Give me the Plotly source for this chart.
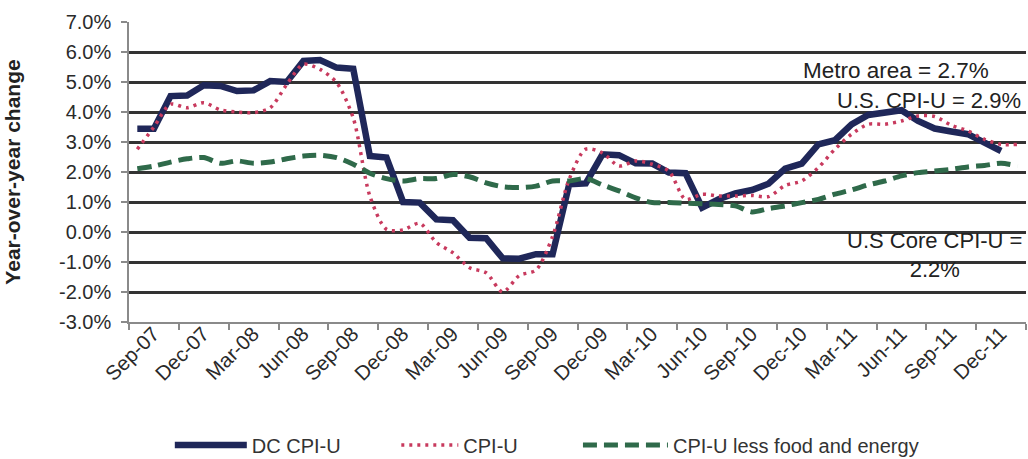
import pandas as pd
import plotly.graph_objects as go

# Monthly categories Sep-07 .. Feb-12
months = [d.strftime("%b-%y") for d in pd.date_range("2007-09-01", "2012-02-01", freq="MS")]

dc_cpi_u = [3.44, 3.44, 4.53, 4.55, 4.89, 4.87, 4.70, 4.72, 5.03, 5.00,
            5.70, 5.73, 5.48, 5.44, 2.53, 2.48, 1.00, 0.98, 0.42, 0.39,
            -0.19, -0.21, -0.88, -0.89, -0.74, -0.74, 1.59, 1.62, 2.59, 2.56,
            2.29, 2.28, 1.98, 1.96, 0.81, 1.09, 1.29, 1.40, 1.61, 2.11,
            2.28, 2.92, 3.06, 3.59, 3.90, 3.97, 4.06, 3.70, 3.45, 3.35,
            3.26, 2.98, 2.70]

cpi_u = [2.76, 3.50, 4.26, 4.14, 4.31, 4.07, 4.00, 3.98, 4.14, 4.92,
         5.59, 5.42, 4.98, 3.80, 1.20, 0.09, 0.07, 0.29, -0.35, -0.69,
         -1.19, -1.36, -2.00, -1.45, -1.27, -0.15, 1.76, 2.76, 2.64, 2.20,
         2.37, 2.26, 2.03, 1.09, 1.26, 1.20, 1.20, 1.22, 1.18, 1.55,
         1.70, 2.15, 2.76, 3.26, 3.59, 3.59, 3.70, 3.87, 3.85, 3.56,
         3.37, 3.09, 2.92, 2.92]

core_cpi_u = [2.11, 2.20, 2.33, 2.44, 2.48, 2.29, 2.37, 2.29, 2.33, 2.44,
              2.53, 2.56, 2.48, 2.26, 1.96, 1.78, 1.70, 1.78, 1.78, 1.92,
              1.84, 1.64, 1.51, 1.48, 1.53, 1.70, 1.70, 1.78, 1.57, 1.37,
              1.14, 0.98, 0.98, 0.96, 0.94, 0.92, 0.87, 0.67, 0.78, 0.87,
              0.98, 1.09, 1.26, 1.40, 1.57, 1.70, 1.87, 1.98, 2.03, 2.09,
              2.17, 2.22, 2.29, 2.20]

series_names = ["DC CPI-U", "CPI-U", "CPI-U less food and energy"]
y_ticks = list(range(-3, 8))

FONT = "Liberation Sans, Arial, sans-serif"

fig = go.Figure()
fig.add_trace(go.Scatter(
    x=months[:len(dc_cpi_u)], y=dc_cpi_u, name=series_names[0], mode="lines",
    legend="legend",
    line=dict(color="#1f2759", width=6.5)))
fig.add_trace(go.Scatter(
    x=months, y=cpi_u, name=series_names[1], mode="lines",
    legend="legend2",
    line=dict(color="#c83a5e", width=3.5, dash="3px,5px", shape="spline", smoothing=0.8)))
fig.add_trace(go.Scatter(
    x=months, y=core_cpi_u, name=series_names[2], mode="lines",
    legend="legend3",
    line=dict(color="#2f6a4a", width=5, dash="14px,7px", shape="spline", smoothing=0.8)))

leg_common = dict(orientation="h", xanchor="left", y=-0.41, yanchor="middle",
                  font=dict(size=20, color="#333333"), bgcolor="rgba(0,0,0,0)")

fig.update_layout(
    width=1028, height=459,
    margin=dict(l=129, r=2, t=22, b=137, autoexpand=False),
    paper_bgcolor="white", plot_bgcolor="white",
    font=dict(family=FONT, color="#2a2a2a", size=19),
    showlegend=True,
    legend=dict(x=0.0455, itemwidth=72, **leg_common),
    legend2=dict(x=0.298, itemwidth=57, **leg_common),
    legend3=dict(x=0.5005, itemwidth=85, **leg_common),
    annotations=[
        dict(x=45.68, y=5.4, xref="x", yref="y", text="Metro area = 2.7%",
             showarrow=False, font=dict(size=22.5, color="#222222")),
        dict(x=53.3, y=4.4, xref="x", yref="y", xanchor="right", text="U.S. CPI-U = 2.9%",
             showarrow=False, font=dict(size=22, color="#222222")),
        dict(x=48.0, y=-0.78, xref="x", yref="y", text="U.S Core CPI-U =<br>2.2%",
             showarrow=False, align="center", font=dict(size=22, color="#222222")),
    ],
)

fig.update_xaxes(
    type="category", categoryorder="array", categoryarray=months,
    range=[-0.5, len(months) - 0.5], automargin=False,
    tickmode="linear", tick0=0, dtick=3, tickson="boundaries",
    ticks="outside", ticklen=6, tickcolor="#8a8a8a", tickwidth=1.5,
    tickangle=-45, tickfont=dict(size=20.5, color="#2a2a2a"),
    ticklabelshift=16, ticklabelstandoff=-10,
    showgrid=False, showline=True, linecolor="#8a8a8a", linewidth=1.5,
    zeroline=False,
)
fig.update_yaxes(
    range=[-3, 7], tickvals=y_ticks, ticktext=[f"{v:.1f}%" for v in y_ticks],
    automargin=False,
    ticks="outside", ticklen=6, tickcolor="#8a8a8a", tickwidth=1.5,
    tickfont=dict(size=20, color="#2a2a2a"), ticklabelstandoff=6,
    showgrid=True, gridcolor="#333333", gridwidth=2.8,
    showline=True, linecolor="#8a8a8a", linewidth=1.5, zeroline=False,
    title=dict(text="<b>Year-over-year change</b>", font=dict(size=21, color="#222222"),
               standoff=33),
)

fig.write_html(
    "out.html",
    config={"displayModeBar": False},
    post_script="document.body.style.margin='0';document.body.style.overflow='hidden';",
)
